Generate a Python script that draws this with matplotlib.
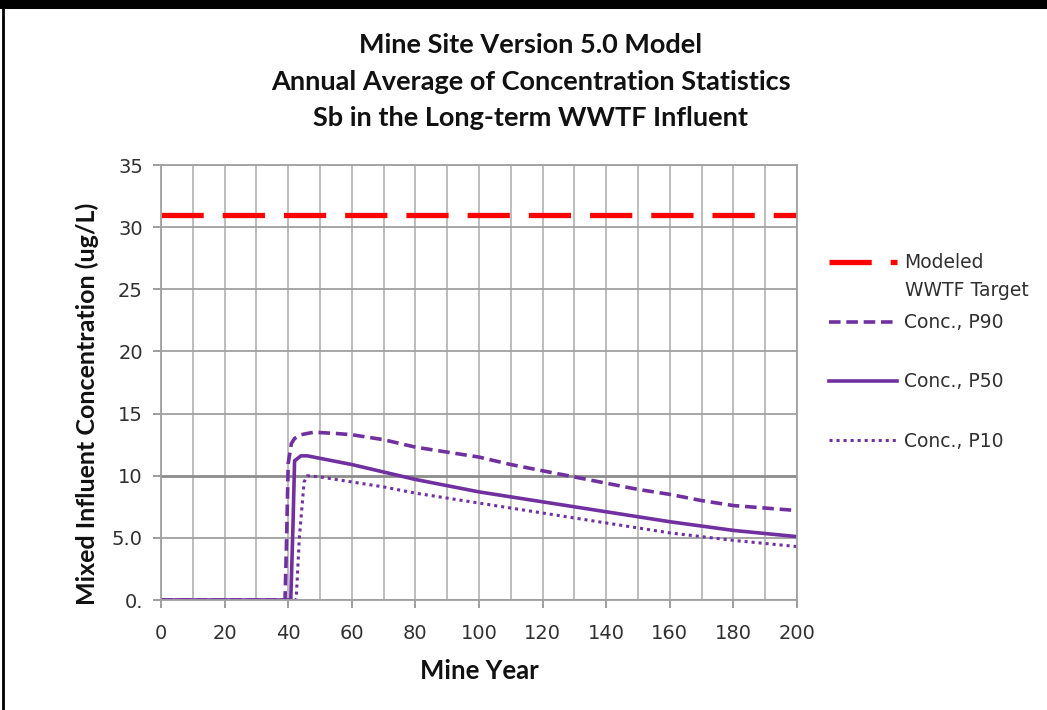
import matplotlib
matplotlib.use("Agg")
import matplotlib.pyplot as plt
from matplotlib.lines import Line2D

# data
years_p90 = [0, 38, 39, 39.5, 40, 41, 42, 44, 48, 55, 60, 70, 80, 90, 100, 110,
             120, 130, 140, 150, 160, 170, 180, 190, 200]
conc_p90 = [0, 0, 0, 5.0, 11.0, 12.6, 13.0, 13.3, 13.5, 13.4, 13.3, 12.9, 12.3,
            11.9, 11.5, 10.9, 10.4, 9.9, 9.4, 8.9, 8.5, 8.0, 7.6, 7.4, 7.2]

years_p50 = [0, 40, 40.8, 41.5, 42, 44, 46, 50, 60, 70, 80, 90, 100, 120, 140,
             160, 180, 200]
conc_p50 = [0, 0, 0, 6.0, 11.2, 11.6, 11.6, 11.4, 10.9, 10.3, 9.7, 9.2, 8.7,
            7.9, 7.1, 6.3, 5.6, 5.1]

years_p10 = [0, 42, 42.5, 43.5, 45, 46, 50, 60, 70, 80, 100, 120, 140, 160, 180, 200]
conc_p10 = [0, 0, 0, 5.0, 9.5, 10.0, 9.9, 9.5, 9.1, 8.6, 7.8, 7.0, 6.2, 5.4, 4.8, 4.3]

target_years = [0, 200]
target_conc = [31, 31]

y_ticks = [0, 5, 10, 15, 20, 25, 30, 35]
y_tick_labels = ["0.", "5.0", "10", "15", "20", "25", "30", "35"]
x_ticks = [0, 20, 40, 60, 80, 100, 120, 140, 160, 180, 200]

title_lines = ["Mine Site Version 5.0 Model",
               "Annual Average of Concentration Statistics",
               "Sb in the Long-term WWTF Influent"]

purple = "#7030A0"
red = "#FF0000"
text_col = "#303030"

fig = plt.figure(figsize=(10.47, 7.10), dpi=100)
ax = fig.add_axes([0.1538, 0.1549, 0.6074, 0.6127])

# gridlines
for x in range(0, 201, 10):
    ax.axvline(x, color="#B8B8B8", lw=1.3, zorder=0)
for y in y_ticks:
    ax.axhline(y, color="#8C8C8C" if y == 10 else "#A0A0A0",
               lw=2.0 if y == 10 else 1.3, zorder=0)

l_t, = ax.plot(target_years, target_conc, color=red, lw=3.8, dashes=(8.0, 3.6))
l90, = ax.plot(years_p90, conc_p90, color=purple, lw=2.6, dashes=(3.2, 1.6))
l50, = ax.plot(years_p50, conc_p50, color=purple, lw=2.6)
l10, = ax.plot(years_p10, conc_p10, color=purple, lw=2.2, dashes=(1, 1.3))

ax.set_xlim(0, 200)
ax.set_ylim(0, 35)
ax.set_xticks(x_ticks)
ax.set_yticks(y_ticks)
ax.set_yticklabels(y_tick_labels)
ax.tick_params(axis="both", labelsize=14, labelcolor=text_col, color="#8C8C8C",
               length=6, width=1.2, direction="out")
ax.tick_params(axis="x", pad=11)
ax.tick_params(axis="y", pad=7)
for s in ax.spines.values():
    s.set_color("#A0A0A0")
    s.set_linewidth(1.3)

ax.set_xlabel("Mine Year", fontsize=18.5, fontweight="bold", family="Lato",
              color="#111111", labelpad=12)
ax.set_ylabel("Mixed Influent Concentration (ug/L)", fontsize=18,
              fontweight="bold", family="Lato", color="#111111")
ax.yaxis.set_label_coords(-0.097, 0.45)

for yy, line in zip([0.9366, 0.8845, 0.8338], title_lines):
    fig.text(0.507, yy, line, ha="center", va="center", fontsize=19.5,
             fontweight="bold", family="Lato", color="#111111")

# legend: target entry and the three concentration entries
leg1 = fig.legend([l_t], ["Modeled"], loc="center left",
                  bbox_to_anchor=(0.785, 1 - 263 / 710), frameon=False,
                  fontsize=13.5, handlelength=3.6, handletextpad=0.4,
                  borderaxespad=0)
fig.text(905 / 1047, 1 - 291 / 710, "WWTF Target", ha="left", va="center",
         fontsize=13.5, color=text_col)
leg2 = fig.legend([l90, l50, l10], ["Conc., P90", "Conc., P50", "Conc., P10"],
                  loc="center left", bbox_to_anchor=(0.785, 1 - 382 / 710),
                  frameon=False, fontsize=13.5, handlelength=3.6,
                  labelspacing=2.15, handletextpad=0.4, borderaxespad=0)
for lg in (leg1, leg2):
    for t in lg.get_texts():
        t.set_color(text_col)

# frame around the figure (top and left edges)
fig.add_artist(Line2D([0, 1], [0.994, 0.994], transform=fig.transFigure,
                      color="black", lw=6.5))
fig.add_artist(Line2D([0.003, 0.003], [0, 1], transform=fig.transFigure,
                      color="black", lw=2))

fig.savefig("out.png", dpi=100)
